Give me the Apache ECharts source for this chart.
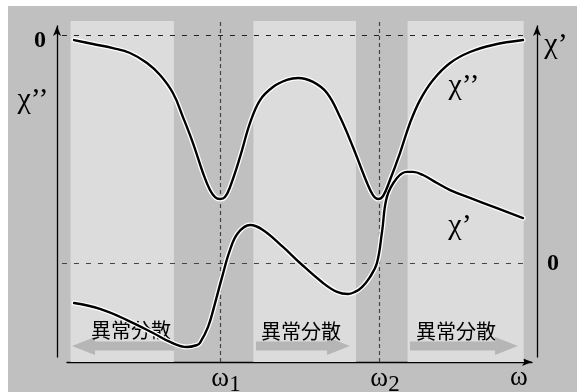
<!DOCTYPE html>
<html>
<head>
<meta charset="utf-8">
<script src="https://cdn.jsdelivr.net/npm/echarts@6/dist/echarts.min.js"></script>
<style>
  html, body { margin: 0; padding: 0; background: #ffffff; }
  #chart { width: 577px; height: 392px; }
</style>
</head>
<body>
<div id="chart"></div>
<script>
// Frequency axis in units where the two resonances sit at ω1 = 1 and ω2 = 2
const resonances = [1, 2];
const resonanceLabels = ['1', '2'];

// Anomalous-dispersion bands (shaded), in ω units
const bandStart = [0.06, 1.21, 2.18];
const bandEnd   = [0.71, 1.855, 2.91];
const bandLabel = ['異常分散', '異常分散', '異常分散'];

// Imaginary part χ'' (absorption), zero at the top reference line
const chiImW = [0.082, 0.201, 0.327, 0.434, 0.541, 0.623, 0.704, 0.767, 0.830, 0.893, 0.937, 0.969, 1.000,
                1.031, 1.063, 1.126, 1.189, 1.252, 1.333, 1.421, 1.491, 1.585, 1.673, 1.755, 1.836, 1.925,
                1.962, 1.994, 2.025, 2.069, 2.132, 2.195, 2.258, 2.340, 2.447, 2.572, 2.717, 2.906];
const chiImV = [-0.031, -0.055, -0.080, -0.110, -0.171, -0.245, -0.355, -0.502, -0.661, -0.844, -0.948, -0.991, -1.003,
                -0.991, -0.930, -0.746, -0.538, -0.398, -0.318, -0.275, -0.263, -0.287, -0.355, -0.502, -0.685, -0.905,
                -0.979, -1.003, -0.985, -0.887, -0.722, -0.538, -0.398, -0.275, -0.171, -0.104, -0.061, -0.031];

// Real part χ' (dispersion), zero at the lower reference line
const chiReW = [0.082, 0.245, 0.415, 0.579, 0.686, 0.792, 0.855, 0.874, 0.925, 0.969, 1.013, 1.063, 1.113,
                1.189, 1.270, 1.396, 1.503, 1.648, 1.736, 1.805, 1.849, 1.893, 1.943, 1.987, 2.019, 2.050,
                2.113, 2.176, 2.214, 2.277, 2.365, 2.447, 2.572, 2.742, 2.906];
const chiReV = [-0.245, -0.281, -0.349, -0.428, -0.483, -0.514, -0.502, -0.489, -0.391, -0.245, -0.086, 0.080, 0.183,
                0.232, 0.202, 0.098, 0.000, -0.122, -0.177, -0.190, -0.177, -0.147, -0.086, 0.000, 0.190, 0.404,
                0.520, 0.557, 0.557, 0.538, 0.489, 0.446, 0.398, 0.336, 0.275];

const pairs = (xs, ys) => xs.map((x, i) => [x, ys[i]]);
const chiIm = pairs(chiImW, chiImV);
const chiRe = pairs(chiReW, chiReV);

const SERIF = 'Liberation Serif';
const CJK = 'Noto Sans CJK JP';
const BG = '#c0c0c0';
const BAND = '#dcdcdc';
const ARROW = '#b6b6b6';

const chart = echarts.init(document.getElementById('chart'), null, { renderer: 'canvas' });

function curve(name, data, yIdx, color, width, z) {
  return {
    name, type: 'line', xAxisIndex: 0, yAxisIndex: yIdx, data,
    smooth: 0.4, showSymbol: false, symbol: 'none', silent: true, z,
    lineStyle: { color, width, cap: 'round', join: 'round' }
  };
}

// Band arrows: the first band points toward low ω, the other two toward high ω
function bandArrow(x0, x1, dir, cy) {
  const head = 23, hh = 9, sh = 4.5;
  let pts;
  if (dir < 0) {
    const b = x0 + head;
    pts = [[x0, cy], [b, cy - hh], [b, cy - sh], [x1, cy - sh], [x1, cy + sh], [b, cy + sh], [b, cy + hh]];
  } else {
    const b = x1 - head;
    pts = [[x1, cy], [b, cy - hh], [b, cy - sh], [x0, cy - sh], [x0, cy + sh], [b, cy + sh], [b, cy + hh]];
  }
  return { type: 'polygon', z: 3, silent: true, shape: { points: pts }, style: { fill: ARROW } };
}

function txt(x, y, text, family, size, weight) {
  return {
    type: 'text', x, y, z: 6, silent: true,
    style: {
      text, fontFamily: family, fontSize: size, fontWeight: weight || 'normal',
      fill: '#000', align: 'center', verticalAlign: 'middle'
    }
  };
}

const axisWithArrow = {
  show: true, symbol: ['none', 'arrow'], symbolSize: [6, 10],
  lineStyle: { color: '#000', width: 1.3 }
};

const option = {
  animation: false,
  backgroundColor: BG,
  grid: [
    { left: 61, right: 39, top: 21, bottom: 30 },   // data area
    { left: 57, right: 40, top: 26, bottom: 35 },   // vertical axes
    { left: 67, right: 45, top: 21, bottom: 30 }    // frequency axis
  ],
  xAxis: [
    { type: 'value', gridIndex: 0, min: 0, max: 3, show: false },
    { type: 'value', gridIndex: 1, min: 0, max: 1, show: false },
    { type: 'value', gridIndex: 2, min: 0, max: 1, axisLine: axisWithArrow,
      axisTick: { show: false }, axisLabel: { show: false }, splitLine: { show: false } }
  ],
  yAxis: [
    { type: 'value', gridIndex: 0, min: -2.0, max: 0.0856, show: false },
    { type: 'value', gridIndex: 0, min: -0.6055, max: 1.48, show: false, position: 'right' },
    { type: 'value', gridIndex: 1, min: 0, max: 1, position: 'left', axisLine: axisWithArrow,
      axisTick: { show: false }, axisLabel: { show: false }, splitLine: { show: false } },
    { type: 'value', gridIndex: 1, min: 0, max: 1, position: 'right', axisLine: axisWithArrow,
      axisTick: { show: false }, axisLabel: { show: false }, splitLine: { show: false } },
    { type: 'value', gridIndex: 2, min: 0, max: 1, show: false }
  ],
  series: [
    {
      name: 'bands', type: 'line', xAxisIndex: 0, yAxisIndex: 0, data: [], z: 1, silent: true,
      markArea: {
        silent: true,
        itemStyle: { color: BAND },
        data: bandStart.map((s, i) => [{ xAxis: s }, { xAxis: bandEnd[i] }])
      }
    },
    {
      name: 'guidesIm', type: 'line', xAxisIndex: 0, yAxisIndex: 0, data: [], z: 2, silent: true,
      markLine: {
        silent: true, symbol: 'none', label: { show: false },
        data: [
          [{ coord: [0.006, 0], lineStyle: { color: '#222', width: 1, type: [5, 7] } },
           { coord: [2.93, 0] }],
          ...resonances.map(w => ({ xAxis: w, lineStyle: { color: '#444', width: 1.2, type: [4, 3] } }))
        ]
      }
    },
    {
      name: 'guidesRe', type: 'line', xAxisIndex: 0, yAxisIndex: 1, data: [], z: 2, silent: true,
      markLine: {
        silent: true, symbol: 'none', label: { show: false },
        data: [
          [{ coord: [0.006, 0], lineStyle: { color: '#444', width: 1, type: [5, 7] } },
           { coord: [2.95, 0] }]
        ]
      }
    },
    curve('χ\'\' halo', chiIm, 0, '#ffffff', 5, 8),
    curve('χ\' halo', chiRe, 1, '#ffffff', 5, 8),
    curve('χ\'\'', chiIm, 0, '#000000', 2.4, 10),
    curve('χ\'', chiRe, 1, '#000000', 2.4, 10)
  ],
  graphic: [
    // page margins
    { type: 'rect', z: 0, silent: true, shape: { x: 0, y: 0, width: 577, height: 6 }, style: { fill: '#fff' } },
    { type: 'rect', z: 0, silent: true, shape: { x: 0, y: 0, width: 8, height: 392 }, style: { fill: '#fff' } },
    bandArrow(72, 174, -1, 346),
    bandArrow(256, 350, 1, 346),
    bandArrow(410, 518, 1, 346),
    txt(131, 330, bandLabel[0], CJK, 20),
    txt(301, 331, bandLabel[1], CJK, 20),
    txt(456, 331, bandLabel[2], CJK, 20),
    txt(40, 41, '0', SERIF, 24, 'bold'),
    txt(553, 264, '0', SERIF, 24, 'bold'),
    txt(33, 100, 'χ’’', SERIF, 30),
    txt(556, 45, 'χ’', SERIF, 30),
    txt(464, 86, 'χ’’', SERIF, 30),
    txt(460, 226, 'χ’', SERIF, 30),
    ...resonances.map((w, i) => ({
      type: 'text', x: 61 + w * 159 + 6, y: 379, z: 6, silent: true,
      style: {
        text: '{w|ω}{s|' + resonanceLabels[i] + '}',
        align: 'center', verticalAlign: 'middle',
        rich: {
          w: { fontFamily: SERIF, fontSize: 27, fill: '#000', verticalAlign: 'middle' },
          s: { fontFamily: SERIF, fontSize: 23, fill: '#000', padding: [12, 0, 0, 0] }
        }
      }
    })),
    txt(519, 378, 'ω', SERIF, 27)
  ]
};

chart.setOption(option);
</script>
</body>
</html>
